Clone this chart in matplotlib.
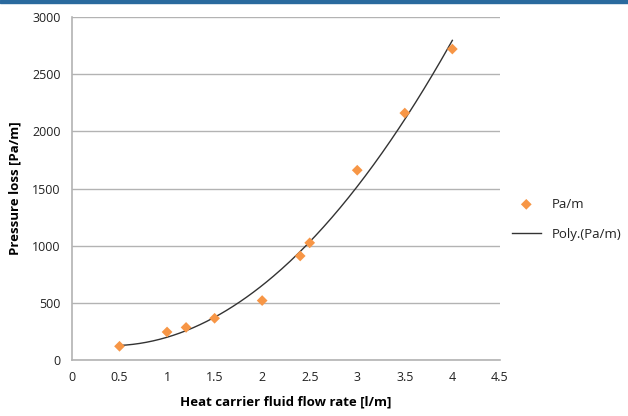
import numpy as np
import matplotlib.pyplot as plt
from matplotlib.patches import Rectangle

flow_rate = [0.5, 1.0, 1.2, 1.5, 2.0, 2.4, 2.5, 3.0, 3.5, 4.0]
pressure_loss = [120, 245, 285, 365, 520, 910, 1025, 1660, 2160, 2720]

x_ticks = [0, 0.5, 1, 1.5, 2, 2.5, 3, 3.5, 4, 4.5]
y_ticks = [0, 500, 1000, 1500, 2000, 2500, 3000]

plt.rcParams['font.family'] = ['Open Sans', 'DejaVu Sans']

fig = plt.figure(figsize=(6.28, 4.16), dpi=100)
ax = fig.add_axes([0.1146, 0.1346, 0.6814, 0.8245])

# top banner stripe
fig.patches.append(Rectangle((0, 0.992), 1, 0.008, transform=fig.transFigure,
                             color='#2a6a9e', zorder=10))

coef = np.polyfit(flow_rate, pressure_loss, 2)
xs = np.linspace(min(flow_rate), max(flow_rate), 200)
ax.plot(xs, np.polyval(coef, xs), color='#333333', lw=1.0, label='Poly.(Pa/m)', zorder=3)
ax.scatter(flow_rate, pressure_loss, marker='D', s=30, color='#f79646',
           edgecolors='none', label='Pa/m', zorder=4)

ax.set_xlim(0, 4.5)
ax.set_ylim(0, 3000)
ax.set_xticks(x_ticks)
ax.set_xticklabels([f'{t:g}' for t in x_ticks])
ax.set_yticks(y_ticks)
ax.tick_params(length=0, labelsize=9, colors='#222222', pad=8)
ax.grid(axis='y', color='#b3b3b3', lw=1)
ax.set_axisbelow(True)
for s in ['top', 'right']:
    ax.spines[s].set_visible(False)
for s in ['left', 'bottom']:
    ax.spines[s].set_color('#b3b3b3')
    ax.spines[s].set_linewidth(1.2)

ax.set_xlabel('Heat carrier fluid flow rate [l/m]', fontsize=9.5, fontweight='bold', labelpad=8)
ax.set_ylabel('Pressure loss [Pa/m]', fontsize=9.5, fontweight='bold', labelpad=8)

handles, labels = ax.get_legend_handles_labels()
ax.legend(handles[::-1], labels[::-1], loc='center left', bbox_to_anchor=(1.0, 0.41),
          frameon=False, fontsize=9.5, handlelength=2.2, labelspacing=1.3,
          labelcolor='#222222')

fig.savefig('out.png', dpi=100)
